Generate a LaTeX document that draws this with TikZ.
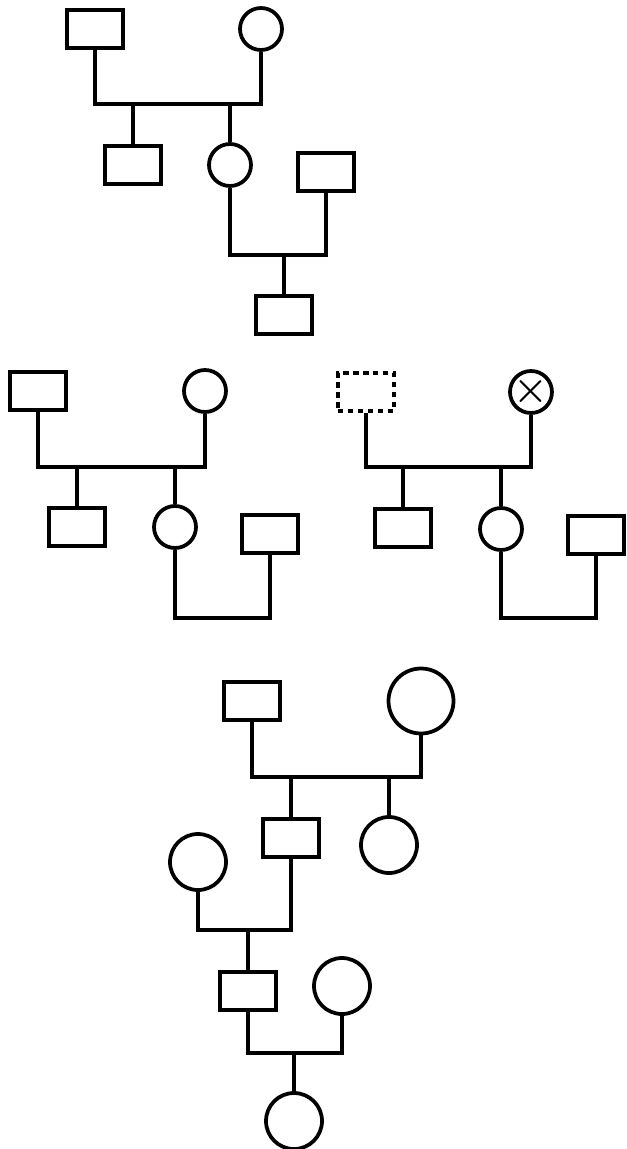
\documentclass[tikz,border=0pt]{standalone}
\usepackage{tikz}
\usetikzlibrary{positioning}
\tikzset{
 male/.style={draw=black, fill=white, minimum width=1.68cm, minimum height=1.14cm, inner sep=0pt},
 female/.style={draw=black, fill=white, circle, minimum size=#1, inner sep=0pt},
 female/.default=1.26cm,
 unknown/.style={male, line width=2.6pt, dash pattern=on 4.5pt off 4pt},
 line/.style={draw=black}
}
\begin{document}
\begin{tikzpicture}[x=0.03cm,y=-0.03cm,line width=3.2pt]
\useasboundingbox (0,0) rectangle (627,1149);
% first family
\node[male] (f1) at (95,29) {};
\node[female] (m1) at (261,29) {};
\node[male] (s1) at (133,165) {};
\node[female] (d1) at (230,165) {};
\node[male] (h1) at (326,172) {};
\node[male] (g1) at (284,315) {};
\coordinate (u1) at (0,104);
\coordinate (v1) at (0,255);
\draw[line] (f1) -- (f1 |- u1) -| (m1);
\foreach \k in {s1,d1}{\draw[line] (\k) -- (\k |- u1);}
\draw[line] (d1) -- (d1 |- v1) -| (h1);
\draw[line] (g1) -- (g1 |- v1);
% second family
\node[male] (f2) at (38,391) {};
\node[female] (m2) at (205,391) {};
\node[male] (s2) at (77,527) {};
\node[female] (d2) at (175,527) {};
\node[male] (h2) at (270,534) {};
\coordinate (u2) at (0,467);
\coordinate (v2) at (0,618);
\draw[line] (f2) -- (f2 |- u2) -| (m2);
\foreach \k in {s2,d2}{\draw[line] (\k) -- (\k |- u2);}
\draw[line] (d2) -- (d2 |- v2) -| (h2);
% third family
\node[unknown] (f3) at (366,392) {};
\node[female] (m3) at (531,392) {\fontsize{34}{34}\selectfont\bfseries ×};
\node[male] (s3) at (403,528) {};
\node[female] (d3) at (501,529) {};
\node[male] (h3) at (596,535) {};
\coordinate (u3) at (0,467);
\coordinate (v3) at (0,618);
\draw[line] (f3) -- (f3 |- u3) -| (m3);
\foreach \k in {s3,d3}{\draw[line] (\k) -- (\k |- u3);}
\draw[line] (d3) -- (d3 |- v3) -| (h3);
% fourth family
\node[male] (f4) at (252,701) {};
\node[female=1.95cm] (m4) at (421,701) {};
\node[male] (s4) at (291,838) {};
\node[female=1.68cm] (d4) at (389,845) {};
\node[female=1.68cm] (w4) at (198,862) {};
\node[male] (g4) at (248,991) {};
\node[female=1.68cm] (x4) at (342,986) {};
\node[female=1.68cm] (c4) at (294,1121) {};
\coordinate (u4) at (0,777);
\coordinate (v4) at (0,930);
\coordinate (t4) at (0,1053);
\draw[line] (f4) -- (f4 |- u4) -| (m4);
\foreach \k in {s4,d4}{\draw[line] (\k) -- (\k |- u4);}
\draw[line] (w4) -- (w4 |- v4) -| (s4);
\draw[line] (g4) -- (g4 |- v4);
\draw[line] (g4) -- (g4 |- t4) -| (x4);
\draw[line] (c4) -- (c4 |- t4);
\end{tikzpicture}
\end{document}
